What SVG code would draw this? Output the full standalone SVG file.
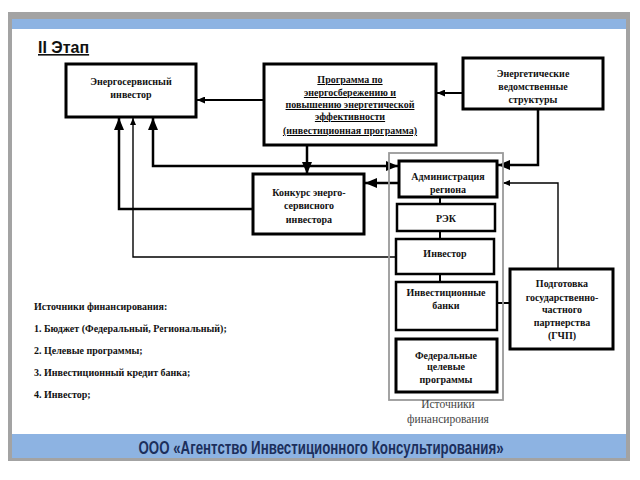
<svg xmlns="http://www.w3.org/2000/svg" width="640" height="480" viewBox="0 0 640 480">
<style>
.box{fill:#fff;stroke:#000;stroke-width:3}
.sub{fill:#fff;stroke:#000;stroke-width:2.5}
.t{font-family:'Liberation Serif','DejaVu Serif',serif;font-weight:bold;font-size:10px;fill:#111;text-anchor:middle}
.lt{font-family:'Liberation Serif','DejaVu Serif',serif;font-weight:bold;font-size:10px;fill:#111}
.thick{fill:none;stroke:#000;stroke-width:2.5}
.mid{fill:none;stroke:#000;stroke-width:2}
.thin{fill:none;stroke:#000;stroke-width:1.4}
</style>
<defs>
<marker id="big" viewBox="0 0 12 10" refX="12" refY="5" markerWidth="12" markerHeight="10" markerUnits="userSpaceOnUse" orient="auto-start-reverse"><path d="M0,0 L12,5 L0,10 z" fill="#000"/></marker>
<marker id="med" viewBox="0 0 8 7" refX="8" refY="3.5" markerWidth="8" markerHeight="7" markerUnits="userSpaceOnUse" orient="auto"><path d="M0,0 L8,3.5 L0,7 z" fill="#000"/></marker>
<marker id="small" viewBox="0 0 7 6" refX="7" refY="3" markerWidth="7" markerHeight="6" markerUnits="userSpaceOnUse" orient="auto"><path d="M0,0 L7,3 L0,6 z" fill="#000"/></marker>
</defs>
<rect width="640" height="480" fill="#fff"/>
<g id="frame">
<rect x="8" y="12" width="622" height="449" fill="#a3a3a3"/>
<rect x="12" y="19" width="614" height="439" fill="#fff"/>
<rect x="12" y="19" width="614" height="10" fill="#8db3e2"/>
<rect x="12" y="434" width="614" height="24" fill="#8db3e2"/>
<text transform="scale(0.7,1)" x="458.6" y="454" font-family="Liberation Sans,Arial,sans-serif" font-weight="bold" font-size="19" fill="#1c2f5c" text-anchor="middle">ООО «Агентство Инвестиционного Консультирования»</text>
</g>
<text x="38" y="53" font-family="Liberation Sans,Arial,sans-serif" font-weight="bold" font-size="16" fill="#111" text-decoration="underline">II Этап</text>

<g id="connectors">
<path class="mid" d="M463,93 H437" marker-end="url(#med)"/>
<path class="mid" d="M264,100 H197" marker-end="url(#med)"/>
<path class="thick" d="M307,145 V174" marker-end="url(#big)"/>
<path class="thick" d="M153,118 V166 H398" marker-start="url(#big)" marker-end="url(#big)"/>
<path class="thick" d="M253,209 H119 V118" marker-end="url(#big)"/>
<path class="thin" d="M396,257 H133 V118" marker-end="url(#small)"/>
<path class="thick" d="M399,183 H365" marker-end="url(#big)"/>
<path class="thick" d="M538,109 V165 H498" marker-end="url(#big)"/>
<path class="thin" d="M558,269 V183 H503" marker-end="url(#small)"/>
<path class="mid" d="M440,197 V204 M440,231 V239 M440,274 V282"/>
<path class="mid" d="M497,303 H510"/>
</g>

<g id="sources">
<rect x="389" y="153" width="114" height="247" fill="none" stroke="#9a9a9a" stroke-width="1.8"/>
<text x="448" y="408" font-family="Liberation Serif,serif" font-size="11.5" fill="#444" text-anchor="middle">Источники</text>
<text x="448" y="423" font-family="Liberation Serif,serif" font-size="11.5" fill="#444" text-anchor="middle">финансирования</text>
</g>

<g id="energy-investor">
<rect class="box" x="66" y="64" width="130" height="53"/>
<text class="t" x="131" y="85">Энергосервисный</text>
<text class="t" x="131" y="98">инвестор</text>
</g>

<g id="program">
<rect class="box" x="264" y="64" width="172" height="81"/>
<g text-decoration="underline">
<text class="t" x="350" y="83">Программа по</text>
<text class="t" x="350" y="96">энергосбережению и</text>
<text class="t" x="350" y="108">повышению энергетической</text>
<text class="t" x="350" y="120">эффективности</text>
<text class="t" x="350" y="134">(инвестиционная программа)</text>
</g>
</g>

<g id="energy-structures">
<rect class="box" x="463" y="58" width="140" height="51"/>
<text class="t" x="533" y="77">Энергетические</text>
<text class="t" x="533" y="90">ведомственные</text>
<text class="t" x="533" y="103">структуры</text>
</g>

<g id="contest">
<rect class="box" x="253" y="174" width="111" height="60"/>
<text class="t" x="309" y="196">Конкурс энерго-</text>
<text class="t" x="309" y="209">сервисного</text>
<text class="t" x="309" y="223">инвестора</text>
</g>

<g id="admin">
<rect class="box" x="399" y="161" width="98" height="36"/>
<text class="t" x="448" y="180">Администрация</text>
<text class="t" x="448" y="193">региона</text>
</g>

<g id="rek">
<rect class="sub" x="397" y="204" width="98" height="27"/>
<text class="t" x="446" y="222">РЭК</text>
</g>

<g id="investor">
<rect class="sub" x="396" y="239" width="98" height="35"/>
<text class="t" x="445" y="257">Инвестор</text>
</g>

<g id="banks">
<rect class="sub" x="396" y="282" width="101" height="48"/>
<text class="t" x="446" y="296">Инвестиционные</text>
<text class="t" x="446" y="309">банки</text>
</g>

<g id="federal">
<rect class="box" x="396" y="339" width="101" height="53"/>
<text class="t" x="446" y="359">Федеральные</text>
<text class="t" x="446" y="370">целевые</text>
<text class="t" x="446" y="383">программы</text>
</g>

<g id="ppp">
<rect class="box" x="510" y="269" width="103" height="80"/>
<text class="t" x="562" y="287">Подготовка</text>
<text class="t" x="562" y="301">государственно-</text>
<text class="t" x="562" y="313">частного</text>
<text class="t" x="562" y="326">партнерства</text>
<text class="t" x="562" y="339">(ГЧП)</text>
</g>

<g id="list">
<text class="lt" x="34" y="310">Источники финансирования:</text>
<text class="lt" x="34" y="332">1. Бюджет (Федеральный, Региональный);</text>
<text class="lt" x="34" y="354">2. Целевые программы;</text>
<text class="lt" x="34" y="376">3. Инвестиционный кредит банка;</text>
<text class="lt" x="34" y="398">4. Инвестор;</text>
</g>
</svg>
